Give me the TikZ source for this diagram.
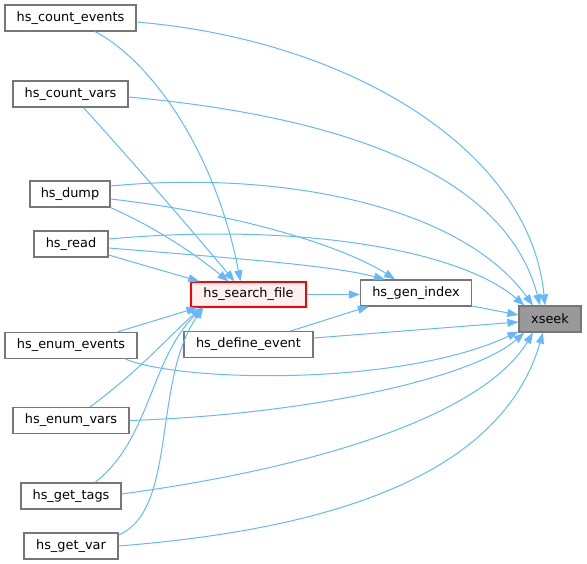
\documentclass[tikz,border=0pt]{standalone}
\usepackage{fontspec}
\setmainfont{DejaVu Sans}
\usetikzlibrary{arrows.meta}
\definecolor{edgeblue}{HTML}{63B8FF}
\definecolor{bordergrey}{HTML}{777777}
\definecolor{selgrey}{HTML}{999999}
\definecolor{hlfill}{HTML}{FFF0F0}
\begin{document}
\begin{tikzpicture}[x=1pt,y=-1pt,
  fn/.style={draw=bordergrey, line width=1.2pt, fill=white, inner sep=0pt,
    minimum height=26pt, font=\fontsize{12.9}{15}\selectfont},
  cur/.style={fn, draw=red, fill=hlfill, minimum height=25pt},
  target/.style={fn, fill=selgrey},
  call/.style={draw=edgeblue, line width=1pt, -{Triangle[length=11pt,width=8pt]}}]
\useasboundingbox (0,0) rectangle (587,564);
% nodes
\node[fn, minimum width=131pt] (ce) at (70.5,18) {hs\_count\_events};
\node[fn, minimum width=115pt] (cv) at (70.5,94) {hs\_count\_vars};
\node[fn, minimum width=80pt]  (du) at (70,194) {hs\_dump};
\node[fn, minimum width=74pt]  (rd) at (71,244) {hs\_read};
\node[cur, minimum width=115pt] (sf) at (248.5,294.5) {hs\_search\_file};
\node[fn, minimum width=111pt] (gi) at (416,293) {hs\_gen\_index};
\node[target, minimum width=62pt] (xs) at (550,319) {xseek};
\node[fn, minimum width=129pt] (de) at (248.5,344.5) {hs\_define\_event};
\node[fn, minimum width=132pt] (ee) at (71,345.5) {hs\_enum\_events};
\node[fn, minimum width=116pt] (ev) at (71,420.5) {hs\_enum\_vars};
\node[fn, minimum width=100pt] (gt) at (71,496) {hs\_get\_tags};
\node[fn, minimum width=94pt]  (gv) at (71,546) {hs\_get\_var};
% edges to xseek
\draw[call] ([yshift=-4pt]ce.east) .. controls (350,40) and (530,150) .. ([xshift=-5pt]xs.north);
\draw[call] ([yshift=-3pt]cv.east) .. controls (380,120) and (510,190) .. ([xshift=-10pt]xs.north);
\draw[call] ([yshift=8pt]du.east) .. controls (280,170) and (460,205) .. ([xshift=-17pt]xs.north);
\draw[call] ([yshift=5pt]rd.east) .. controls (300,222) and (460,250) .. ([xshift=6pt]xs.north west);
\draw[call] ([yshift=-13pt]gi.east) -- ([yshift=4pt]xs.west);
\draw[call] ([yshift=6.5pt]de.east) -- ([yshift=-3pt]xs.west);
\draw[call] ([xshift=-12pt]ee.south east) .. controls (180,382) and (400,387) .. ([yshift=1pt]xs.south west);
\draw[call] (ev.east) .. controls (300,415) and (470,380) .. ([xshift=6pt]xs.south west);
\draw[call] ([yshift=2pt]gt.east) .. controls (300,470) and (480,420) .. ([xshift=-17pt]xs.south);
\draw[call] (gv.east) .. controls (320,530) and (500,480) .. ([xshift=-7pt]xs.south);
% edges to hs_gen_index
\draw[call] ([yshift=-5pt]du.east) .. controls (250,215) and (350,250) .. ([xshift=-21pt]gi.north);
\draw[call] ([yshift=-4pt]rd.east) .. controls (230,258) and (330,265) .. ([xshift=-31pt]gi.north);
\draw[call] (sf.east) -- (sf.east -| gi.west);
\draw[call] ([xshift=-23pt]de.north east) .. controls (320,322) and (350,312) .. ([xshift=9pt]gi.south west);
% edges to hs_search_file
\draw[call] ([xshift=24.5pt]ce.south) .. controls (150,60) and (215,150) .. ([xshift=-8pt]sf.north);
\draw[call] ([xshift=13pt]cv.south) .. controls (140,170) and (200,240) .. ([xshift=-14pt]sf.north);
\draw[call] (du.south east) .. controls (150,225) and (190,250) .. ([xshift=-20pt]sf.north);
\draw[call] ([yshift=-11pt]rd.east) -- ([xshift=9pt]sf.north west);
\draw[call] ([xshift=-20pt]ee.north east) -- ([xshift=7pt]sf.south west);
\draw[call] ([xshift=19pt]ev.north) .. controls (140,370) and (165,340) .. ([xshift=11pt]sf.south west);
\draw[call] ([xshift=24pt]gt.north) .. controls (150,440) and (150,360) .. ([xshift=12pt]sf.south west);
\draw[call] ([yshift=11pt]gv.east) .. controls (178,510) and (152,380) .. ([xshift=13pt]sf.south west);
\end{tikzpicture}
\end{document}
